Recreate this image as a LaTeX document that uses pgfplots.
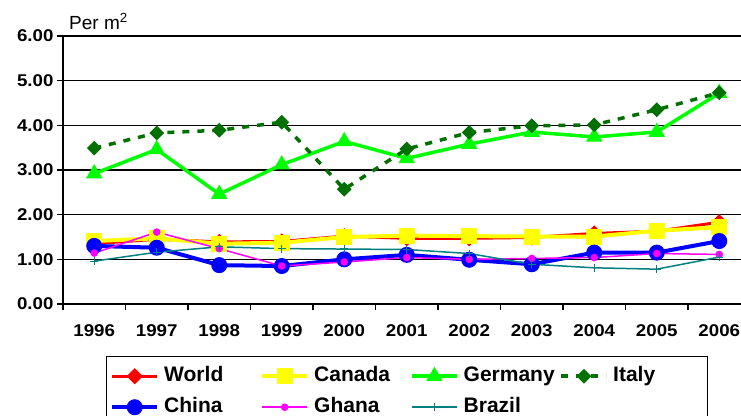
\documentclass[border=0pt]{standalone}
\usepackage{fontspec}
\setmainfont{Liberation Sans}
\newfontfamily\tickfont{Liberation Sans}[FakeStretch=1.1]
\usepackage{pgfplots}
\pgfplotsset{compat=1.18}

\definecolor{cworld}{RGB}{255,0,0}
\definecolor{ccanada}{RGB}{255,255,0}
\definecolor{cgermany}{RGB}{0,255,0}
\definecolor{citaly}{RGB}{0,112,0}
\definecolor{cchina}{RGB}{0,0,255}
\definecolor{cghana}{RGB}{255,0,255}
\definecolor{cbrazil}{RGB}{0,128,128}

\begin{document}
\begin{tikzpicture}
\begin{axis}[
    scale only axis,
    width=678bp, height=268bp,
    xmin=-0.5, xmax=10.348,
    ymin=0, ymax=6,
    axis x line*=bottom, axis y line*=left,
    axis line style={black, line width=1.3bp},
    xtick={0,...,10},
    xticklabels={1996,1997,1998,1999,2000,2001,2002,2003,2004,2005,2006},
    minor xtick={-0.5,0.5,...,9.5},
    major x tick style={draw=none},
    minor x tick style={black, line width=1.2bp},
    ytick={0,1,...,6},
    major y tick style={black, line width=1.2bp},
    tick align=outside,
    major tick length=6bp, minor tick length=6bp,
    ymajorgrids,
    major grid style={black, line width=1.3bp},
    /pgf/number format/.cd, fixed, fixed zerofill, precision=2, assume math mode=true,
    /pgfplots/.cd,
    ticklabel style={font=\tickfont\fontsize{17bp}{20bp}\selectfont\bfseries},
    xticklabel style={yshift=-11bp},
    legend columns=4,
    legend cell align=left,
    legend image code/.code={\draw[mark repeat=2,mark phase=2] plot coordinates {(0bp,0bp) (22.5bp,0bp) (45bp,0bp)};},
    legend style={
        at={(0.063,-0.194)}, anchor=north west,
        draw=black, line width=1bp,
        inner xsep=4bp, inner ysep=10bp,
        font=\fontsize{21bp}{24bp}\selectfont\bfseries,
        nodes={inner sep=0pt, text width=90bp, text height=15bp, text depth=4.5bp},
        /tikz/every odd column/.style={column sep=5bp},
        /tikz/every even column/.style={column sep=6bp},
        row sep=11.5bp,
    },
]
% World
\addplot[cworld, line width=3bp, mark=square*, mark size=4.2bp, mark options={rotate=45, solid}] coordinates {
  (0,1.35) (1,1.45) (2,1.39) (3,1.40) (4,1.52) (5,1.47) (6,1.47) (7,1.49) (8,1.58) (9,1.63) (10,1.83)
};
\addlegendentry{World}
% Canada
\addplot[ccanada, line width=4bp, mark=square*, mark size=7.5bp, mark options={solid, line width=1bp}] coordinates {
  (0,1.41) (1,1.47) (2,1.35) (3,1.37) (4,1.50) (5,1.53) (6,1.52) (7,1.51) (8,1.51) (9,1.64) (10,1.72)
};
\addlegendentry{Canada}
% Germany
\addplot[cgermany, line width=3.5bp, mark=triangle*, mark size=8.5bp, mark options={solid, line width=1bp}] coordinates {
  (0,2.92) (1,3.46) (2,2.46) (3,3.12) (4,3.64) (5,3.26) (6,3.58) (7,3.85) (8,3.74) (9,3.85) (10,4.72)
};
\addlegendentry{Germany}
% Italy
\addplot[citaly, line width=3.5bp, dash pattern=on 7bp off 8bp, mark=square*, mark size=4.7bp, mark options={rotate=45, solid, line width=1bp}] coordinates {
  (0,3.49) (1,3.83) (2,3.89) (3,4.07) (4,2.57) (5,3.47) (6,3.84) (7,3.99) (8,4.01) (9,4.35) (10,4.73)
};
\addlegendentry{Italy}
% China
\addplot[cchina, line width=4bp, mark=*, mark size=7.5bp, mark options={solid, line width=1bp}] coordinates {
  (0,1.30) (1,1.26) (2,0.87) (3,0.85) (4,1.00) (5,1.10) (6,0.99) (7,0.89) (8,1.15) (9,1.15) (10,1.41)
};
\addlegendentry{China}
% Ghana
\addplot[cghana, line width=1.5bp, mark=*, mark size=3bp, mark options={solid}] coordinates {
  (0,1.14) (1,1.61) (2,1.24) (3,0.85) (4,0.94) (5,1.04) (6,1.00) (7,1.02) (8,1.04) (9,1.13) (10,1.11)
};
\addlegendentry{Ghana}
% Brazil
\addplot[cbrazil, line width=1.5bp, mark=+, mark size=4bp, mark options={solid, line width=1.2bp}] coordinates {
  (0,0.96) (1,1.16) (2,1.28) (3,1.24) (4,1.23) (5,1.22) (6,1.13) (7,0.89) (8,0.81) (9,0.78) (10,1.05)
};
\addlegendentry{Brazil}
\end{axis}
\node[anchor=base west, inner sep=0pt, font=\fontsize{19bp}{22bp}\selectfont] at (6bp,274bp) {Per m\textsuperscript{2}};
\pgfresetboundingbox
\path[use as bounding box] (-63bp,-112bp) rectangle (678bp,304bp);
\end{tikzpicture}
\end{document}
